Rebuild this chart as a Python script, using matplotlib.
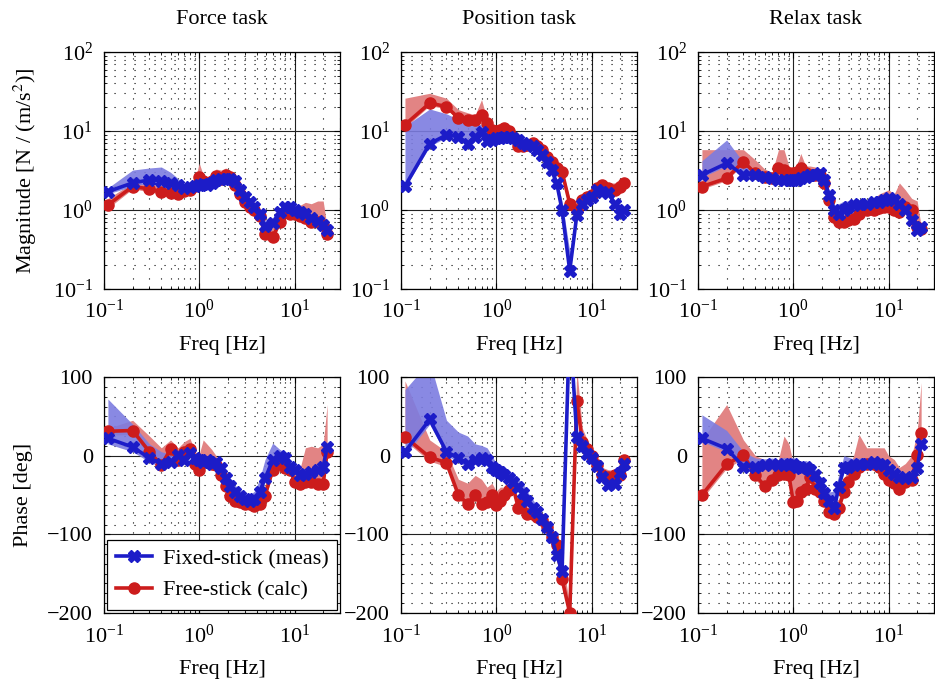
import numpy as np
import matplotlib
matplotlib.use("Agg")
import matplotlib.pyplot as plt
from matplotlib.ticker import LogLocator, MultipleLocator, NullFormatter

plt.rcParams['font.family'] = ['Liberation Serif', 'DejaVu Serif']
plt.rcParams['mathtext.fontset'] = 'stix'
plt.rcParams['font.size'] = 16

# excitation frequencies [Hz]
freq = [0.11, 0.2, 0.3, 0.4, 0.5, 0.6, 0.7, 0.8, 0.9, 1.0, 1.1, 1.2, 1.35, 1.5,
        1.7, 1.9, 2.1, 2.4, 2.7, 3.0, 3.4, 3.8, 4.3, 4.9, 5.9, 7.0, 8.0, 9.0,
        10.0, 11.5, 13.0, 15.0, 17.5, 20.0, 22.0]

tasks = ["Force task", "Position task", "Relax task"]

# ---- Force task ----
force_mag_fixed = [1.71, 2.2, 2.4, 2.35, 2.2, 2.1, 1.9, 1.95, 2.0, 2.1, 2.15, 2.1, 2.2, 2.4,
                   2.5, 2.45, 2.5, 2.3, 1.8, 1.45, 1.25, 1.1, 0.9, 0.62, 0.68, 0.95, 1.1, 1.1,
                   1.0, 0.95, 0.88, 0.8, 0.72, 0.64, 0.56]
force_mag_fixed_lo = [1.6, 2.0, 2.2, 2.15, 2.0, 1.9, 1.75, 1.8, 1.85, 1.95, 2.0, 1.95, 2.05, 2.25,
                      2.3, 2.3, 2.3, 2.1, 1.65, 1.35, 1.15, 1.0, 0.8, 0.55, 0.6, 0.85, 1.0, 1.0,
                      0.92, 0.88, 0.82, 0.74, 0.66, 0.58, 0.52]
force_mag_fixed_hi = [1.9, 3.2, 3.4, 3.5, 3.0, 2.5, 2.1, 2.1, 2.15, 2.3, 2.35, 2.3, 2.4, 2.6,
                      2.7, 2.65, 2.7, 2.5, 1.95, 1.6, 1.4, 1.2, 1.0, 0.75, 0.8, 1.05, 1.2, 1.2,
                      1.1, 1.05, 0.98, 0.9, 0.8, 0.72, 0.62]
force_mag_free = [1.16, 1.98, 1.85, 1.7, 1.65, 1.58, 1.75, 1.8, 2.0, 2.6, 2.3, 2.2, 2.3, 2.7,
                  2.5, 2.8, 2.6, 2.1, 1.6, 1.25, 1.1, 1.0, 0.85, 0.5, 0.45, 0.7, 0.95, 0.9,
                  0.88, 0.85, 0.8, 0.7, 0.7, 0.65, 0.5]
force_mag_free_lo = [1.05, 1.85, 1.7, 1.6, 1.55, 1.5, 1.65, 1.7, 1.85, 2.4, 2.15, 2.05, 2.15, 2.5,
                     2.35, 2.6, 2.4, 1.95, 1.5, 1.15, 1.0, 0.92, 0.78, 0.46, 0.42, 0.64, 0.88, 0.84,
                     0.82, 0.8, 0.74, 0.65, 0.65, 0.6, 0.47]
force_mag_free_hi = [1.4, 2.2, 2.1, 2.0, 1.9, 1.8, 2.0, 2.1, 2.4, 3.9, 2.8, 2.6, 2.8, 3.3,
                     3.2, 3.4, 3.0, 2.5, 1.9, 1.45, 1.25, 1.12, 0.95, 0.6, 0.6, 0.9, 1.2, 1.15,
                     1.15, 1.15, 1.25, 1.2, 1.3, 1.3, 0.6]
force_ph_fixed = [22, 11, -3, -10, -8, 1, -6, 3, -3, -6, -8, -6, -10, -8,
                  -16, -29, -38, -46, -51, -55, -57, -55, -46, -29, -6, -1, -3, -14,
                  -18, -25, -23, -21, -18, -14, 11]
force_ph_fixed_lo = [15, 5, -8, -15, -13, -4, -11, -2, -8, -11, -13, -11, -15, -13,
                     -21, -34, -43, -51, -56, -60, -62, -60, -51, -34, -11, -6, -8, -19,
                     -23, -30, -28, -26, -23, -19, 6]
force_ph_fixed_hi = [72, 40, 15, 5, 2, 8, 0, 10, 2, 0, -3, -1, -5, -3,
                     -10, -22, -30, -38, -44, -48, -50, -45, -30, -5, 16, 8, 4, -8,
                     -12, -18, -16, -15, -12, -8, 16]
force_ph_free = [31, 32, 5, -12, 8, -6, 5, 9, -10, -18, -8, -8, -10, -12,
                 -25, -38, -51, -57, -59, -61, -61, -64, -61, -51, -18, -10, -16, -18,
                 -33, -36, -33, -33, -36, -36, 5]
force_ph_free_lo = [26, 27, 0, -17, 3, -11, 0, 4, -15, -23, -13, -13, -15, -17,
                    -30, -43, -56, -62, -64, -66, -66, -69, -66, -56, -23, -15, -21, -23,
                    -38, -41, -38, -38, -41, -41, 0]
force_ph_free_hi = [35, 45, 25, 10, 20, 10, 18, 22, 5, 2, 20, 15, 8, 0,
                    -15, -30, -42, -48, -50, -52, -52, -55, -50, -38, -5, 0, -5, -8,
                    -10, -15, 10, 12, 10, 15, 65]

# ---- Position task ----
pos_mag_fixed = [2.0, 6.9, 8.9, 8.5, 6.9, 8.5, 9.6, 7.4, 7.7, 8.1, 8.1, 8.5, 8.5, 8.1,
                 7.7, 7.0, 6.7, 6.4, 5.8, 5.0, 4.1, 3.2, 2.2, 1.0, 0.17, 0.86, 1.2, 1.34,
                 1.48, 1.8, 1.7, 1.63, 1.2, 0.9, 1.0]
pos_mag_fixed_lo = [1.9, 6.4, 8.3, 7.9, 6.4, 7.9, 8.9, 6.9, 7.2, 7.5, 7.5, 7.9, 7.9, 7.5,
                    7.1, 6.5, 6.2, 5.9, 5.3, 4.6, 3.7, 2.8, 1.8, 0.7, 0.15, 0.78, 1.1, 1.25,
                    1.38, 1.68, 1.58, 1.52, 1.1, 0.84, 0.93]
pos_mag_fixed_hi = [11.5, 19.0, 16.5, 14.0, 13.0, 12.5, 12.0, 10.5, 9.5, 9.5, 9.5, 9.5, 9.5, 9.0,
                    8.6, 7.8, 7.4, 7.0, 6.3, 5.5, 4.5, 3.6, 2.5, 1.3, 0.3, 0.95, 1.3, 1.44,
                    1.6, 1.95, 1.82, 1.75, 1.3, 0.98, 1.08]
pos_mag_free = [12.0, 22.5, 20.4, 14.6, 13.8, 13.8, 16.0, 12.6, 10.3, 9.9, 10.3, 10.8, 9.9, 8.5,
                6.4, 6.4, 6.7, 7.0, 6.4, 5.8, 4.75, 4.1, 3.4, 3.06, 1.2, 1.0, 1.34, 1.48,
                1.55, 1.9, 2.07, 1.9, 1.8, 1.98, 2.2]
pos_mag_free_lo = [11.0, 21.0, 19.0, 13.6, 12.8, 12.8, 14.8, 11.7, 9.6, 9.2, 9.6, 10.0, 9.2, 7.9,
                   5.9, 5.9, 6.2, 6.5, 5.9, 5.4, 4.4, 3.8, 3.1, 2.8, 1.1, 0.92, 1.25, 1.38,
                   1.44, 1.76, 1.92, 1.76, 1.66, 1.82, 2.02]
pos_mag_free_hi = [26.0, 30.0, 26.0, 18.6, 17.0, 16.0, 25.0, 14.0, 11.5, 11.0, 11.8, 12.0, 11.0, 9.5,
                   7.2, 7.2, 7.5, 7.8, 7.1, 6.4, 5.3, 4.6, 3.8, 3.4, 1.4, 1.15, 1.48, 1.62,
                   1.7, 2.1, 2.3, 2.2, 2.2, 2.5, 2.6]
pos_ph_fixed = [5, 46, 5, -3, -10, -6, -3, -6, -14, -18, -21, -25, -29, -33,
                -40, -48, -57, -66, -72, -81, -91, -104, -126, -147, 170, 24, 12, 2,
                -3, -13, -27, -37, -36, -22, -10]
pos_ph_fixed_lo = [0, 40, 0, -8, -15, -11, -8, -11, -19, -23, -26, -30, -34, -38,
                   -45, -53, -62, -71, -77, -86, -96, -109, -131, -152, 165, 19, 7, -3,
                   -8, -18, -32, -42, -41, -27, -15]
pos_ph_fixed_hi = [84, 120, 45, 30, 25, 15, 13, 10, 0, -10, -12, -15, -20, -25,
                   -30, -35, -45, -55, -65, -75, -85, -95, -100, -120, 175, 30, 17, 7,
                   2, -8, -22, -32, -31, -17, -5]
pos_ph_free = [24, -2, -9, -50, -61, -50, -61, -59, -50, -63, -57, -50, -44, -40,
               -66, -57, -74, -74, -78, -82, -91, -104, -114, -157, -200, 70, 18, 8,
               0, -12, -25, -27, -25, -25, -6]
pos_ph_free_lo = [19, -7, -14, -55, -66, -55, -66, -64, -55, -68, -62, -55, -49, -45,
                  -71, -62, -79, -79, -83, -87, -96, -109, -119, -162, -205, 65, 13, 3,
                  -5, -17, -30, -32, -30, -30, -11]
pos_ph_free_hi = [95, 20, 5, -30, -35, -25, -30, -40, -35, -45, -40, -40, -38, -35,
                  -55, -50, -65, -68, -72, -76, -85, -98, -108, -130, -190, 110, 35, 20,
                  10, -2, -15, -18, -18, -15, 0]

# ---- Relax task ----
rel_mag_fixed = [2.78, 3.9, 2.78, 2.78, 2.65, 2.52, 2.4, 2.4, 2.4, 2.4, 2.4, 2.52, 2.65, 2.78,
                 2.78, 2.9, 2.4, 1.55, 1.0, 0.9, 1.0, 1.1, 1.16, 1.2, 1.2, 1.27, 1.27, 1.34,
                 1.4, 1.34, 1.2, 1.0, 0.75, 0.56, 0.61]
rel_mag_fixed_lo = [2.6, 3.6, 2.6, 2.6, 2.48, 2.36, 2.25, 2.25, 2.25, 2.25, 2.25, 2.36, 2.48, 2.6,
                    2.6, 2.7, 2.2, 1.4, 0.9, 0.82, 0.92, 1.02, 1.08, 1.12, 1.12, 1.18, 1.18, 1.25,
                    1.3, 1.25, 1.12, 0.93, 0.7, 0.52, 0.57]
rel_mag_fixed_hi = [4.2, 7.7, 4.0, 3.2, 3.0, 2.8, 2.7, 2.7, 2.65, 2.65, 2.65, 2.75, 2.9, 3.0,
                    3.0, 3.1, 2.6, 1.7, 1.15, 1.2, 1.3, 1.3, 1.3, 1.32, 1.32, 1.38, 1.38, 1.45,
                    1.52, 1.45, 1.3, 1.1, 0.82, 0.62, 0.66]
rel_mag_free = [1.98, 2.52, 4.1, 2.9, 2.65, 2.52, 3.4, 3.2, 2.9, 2.9, 3.05, 3.4, 2.9, 2.78,
                2.78, 2.78, 2.2, 1.34, 0.82, 0.71, 0.71, 0.75, 0.78, 0.9, 1.0, 1.0, 1.05, 1.1,
                1.1, 1.0, 0.95, 1.1, 1.0, 0.61, 0.58]
rel_mag_free_lo = [1.85, 2.35, 3.8, 2.7, 2.45, 2.35, 3.15, 2.95, 2.7, 2.7, 2.85, 3.15, 2.7, 2.6,
                   2.6, 2.6, 2.05, 1.25, 0.76, 0.66, 0.66, 0.7, 0.73, 0.84, 0.93, 0.93, 0.98, 1.02,
                   1.02, 0.93, 0.88, 1.02, 0.93, 0.57, 0.54]
rel_mag_free_hi = [5.8, 5.8, 5.8, 4.3, 3.3, 3.0, 5.8, 5.8, 3.6, 3.3, 3.8, 5.2, 3.6, 3.6,
                   3.5, 3.3, 2.5, 1.6, 1.0, 0.85, 0.85, 0.9, 0.95, 1.1, 1.3, 1.4, 1.6, 1.7,
                   1.8, 1.6, 2.2, 1.8, 1.4, 1.3, 0.62]
rel_ph_fixed = [22, 9, -14, -14, -12, -10, -12, -10, -12, -10, -14, -16, -14, -18,
                -25, -35, -48, -57, -67, -40, -16, -14, -12, -10, -10, -8, -10, -12,
                -18, -23, -27, -29, -27, -16, 15]
rel_ph_fixed_lo = [18, 5, -18, -18, -16, -14, -16, -14, -16, -14, -18, -20, -18, -22,
                   -29, -39, -52, -61, -71, -44, -20, -18, -16, -14, -14, -12, -14, -16,
                   -22, -27, -31, -33, -31, -20, 11]
rel_ph_fixed_hi = [52, 32, 5, -3, -4, -3, -5, -2, -4, -2, -6, -8, -6, -9,
                   -16, -26, -38, -46, -45, -25, 0, -2, -4, -3, -3, -2, -4, -6,
                   -11, -16, -20, -22, -20, -9, 20]
rel_ph_free = [-50, -11, 1, -25, -38, -31, -25, -23, -25, -59, -57, -46, -42, -27,
               -42, -46, -57, -72, -74, -67, -46, -33, -23, -14, -10, -10, -14, -23,
               -31, -35, -42, -33, -31, 1, 29]
rel_ph_free_lo = [-55, -16, -4, -30, -43, -36, -30, -28, -30, -64, -62, -51, -47, -32,
                  -47, -51, -62, -77, -79, -72, -51, -38, -28, -19, -15, -15, -19, -28,
                  -36, -40, -47, -38, -36, -4, 24]
rel_ph_free_hi = [20, 65, 20, 0, -5, -10, -5, 25, 15, -10, -20, -10, -15, -20,
                  -30, -35, -45, -55, -60, -55, -30, -15, 0, 27, 10, 10, 10, 10,
                  0, -5, -15, -10, 0, 30, 93]

mag_fixed = [force_mag_fixed, pos_mag_fixed, rel_mag_fixed]
mag_fixed_lo = [force_mag_fixed_lo, pos_mag_fixed_lo, rel_mag_fixed_lo]
mag_fixed_hi = [force_mag_fixed_hi, pos_mag_fixed_hi, rel_mag_fixed_hi]
mag_free = [force_mag_free, pos_mag_free, rel_mag_free]
mag_free_lo = [force_mag_free_lo, pos_mag_free_lo, rel_mag_free_lo]
mag_free_hi = [force_mag_free_hi, pos_mag_free_hi, rel_mag_free_hi]
ph_fixed = [force_ph_fixed, pos_ph_fixed, rel_ph_fixed]
ph_fixed_lo = [force_ph_fixed_lo, pos_ph_fixed_lo, rel_ph_fixed_lo]
ph_fixed_hi = [force_ph_fixed_hi, pos_ph_fixed_hi, rel_ph_fixed_hi]
ph_free = [force_ph_free, pos_ph_free, rel_ph_free]
ph_free_lo = [force_ph_free_lo, pos_ph_free_lo, rel_ph_free_lo]
ph_free_hi = [force_ph_free_hi, pos_ph_free_hi, rel_ph_free_hi]

blue = '#1c1cc8'
red = '#cc1c1c'
blue_band = '#7c7ce0'
red_band = '#e28484'

fig = plt.figure(figsize=(9.35, 6.83), dpi=100)

lefts = [0.1112, 0.4289, 0.7465]
w = 0.2524


def style_axis(ax):
    ax.set_xscale('log')
    ax.set_xlim(0.1, 30)
    ax.xaxis.set_major_locator(LogLocator(base=10, numticks=10))
    ax.xaxis.set_minor_locator(LogLocator(base=10, subs=np.arange(2, 10), numticks=20))
    ax.xaxis.set_minor_formatter(NullFormatter())
    ax.grid(True, which='major', color='#202020', lw=0.8, ls='-')
    ax.grid(True, which='minor', color='black', lw=0.8, ls=(0, (1, 8)))
    ax.tick_params(which='both', direction='in', top=True, right=True)
    ax.tick_params(which='major', length=4, labelsize=16, pad=8)
    ax.tick_params(which='minor', length=2)
    ax.set_axisbelow(True)
    for s in ax.spines.values():
        s.set_linewidth(0.9)
    ax.set_xlabel('Freq [Hz]', fontsize=16, labelpad=9)


for i in range(3):
    # magnitude
    ax = fig.add_axes([lefts[i], 0.5769, w, 0.347])
    ax.fill_between(freq, mag_free_lo[i], mag_free_hi[i], color=red_band, lw=0, zorder=2)
    ax.fill_between(freq, mag_fixed_lo[i], mag_fixed_hi[i], color=blue_band, lw=0, alpha=0.9, zorder=2)
    ax.plot(freq, mag_free[i], color=red, lw=2.6, marker='o', ms=8, zorder=3)
    ax.plot(freq, mag_fixed[i], color=blue, lw=2.6, marker='X', ms=8.5, zorder=4)
    style_axis(ax)
    ax.set_yscale('log')
    ax.set_ylim(0.1, 100)
    ax.yaxis.set_major_locator(LogLocator(base=10, numticks=10))
    ax.yaxis.set_minor_locator(LogLocator(base=10, subs=np.arange(2, 10), numticks=20))
    ax.yaxis.set_minor_formatter(NullFormatter())
    ax.set_title(tasks[i], fontsize=16, pad=20)
    if i == 0:
        ax.set_ylabel('Magnitude [N / (m/s$^2$)]', fontsize=16, labelpad=10)

    # phase
    ax = fig.add_axes([lefts[i], 0.1025, w, 0.3455])
    ax.fill_between(freq, ph_free_lo[i], ph_free_hi[i], color=red_band, lw=0, zorder=2)
    ax.fill_between(freq, ph_fixed_lo[i], ph_fixed_hi[i], color=blue_band, lw=0, alpha=0.9, zorder=2)
    l_free, = ax.plot(freq, ph_free[i], color=red, lw=2.6, marker='o', ms=8, zorder=3)
    l_fixed, = ax.plot(freq, ph_fixed[i], color=blue, lw=2.6, marker='X', ms=8.5, zorder=4)
    style_axis(ax)
    ax.set_ylim(-200, 100)
    ax.yaxis.set_major_locator(MultipleLocator(100))
    ax.yaxis.set_minor_locator(MultipleLocator(12.5))
    if i == 0:
        ax.set_ylabel('Phase [deg]', fontsize=16, labelpad=10)
        leg = ax.legend([l_fixed, l_free], ['Fixed-stick (meas)', 'Free-stick (calc)'],
                        loc='lower left', fontsize=16, fancybox=False, framealpha=1,
                        edgecolor='black', borderaxespad=0.15, handlelength=1.6,
                        handletextpad=0.5, borderpad=0.4, labelspacing=0.5)
        leg.get_frame().set_linewidth(0.9)

fig.savefig('out.png', dpi=100)
